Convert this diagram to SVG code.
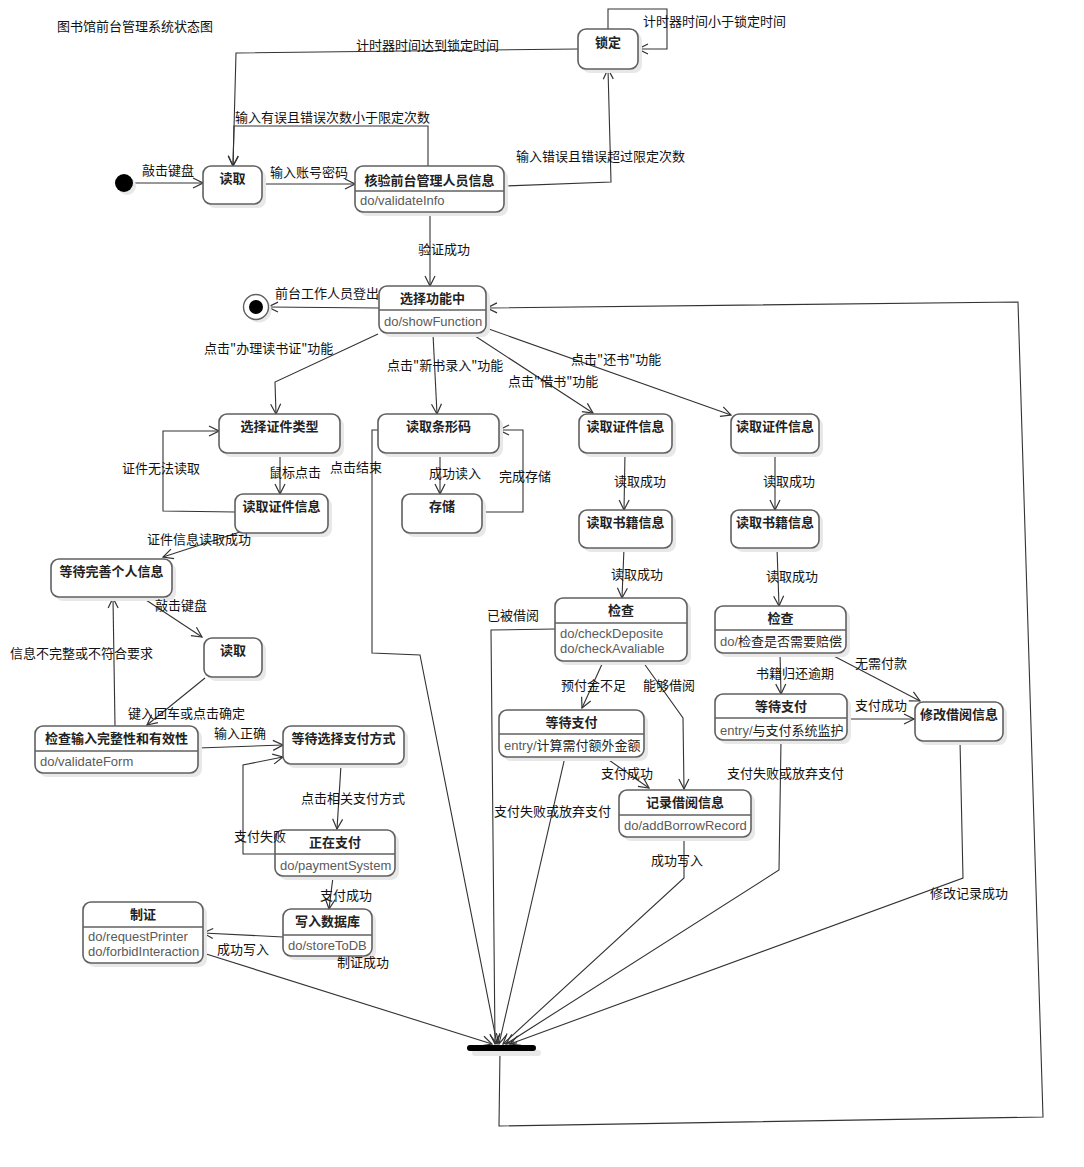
<svg xmlns="http://www.w3.org/2000/svg" width="1084" height="1167" viewBox="0 0 1084 1167">
  <style>
    .shadow { fill: #e8e8e8; }
    .box { fill: #ffffff; stroke: #606060; stroke-width: 1.6; }
    .div { stroke: #606060; stroke-width: 1.4; }
    .title { font-family: "Noto Sans CJK SC", sans-serif; font-size: 13px; font-weight: bold; fill: #222; text-anchor: middle; }
    .act { font-family: "Liberation Sans", "Noto Sans CJK SC", sans-serif; font-size: 13px; fill: #5a5a5a; }
    .actcn { font-family: "Noto Sans CJK SC", sans-serif; fill: #222; }
    .lbl { font-family: "Noto Sans CJK SC", sans-serif; font-size: 13px; fill: #111; }
    .edge { fill: none; stroke: #333; stroke-width: 1.1; marker-end: url(#arr); }
  </style>
  <defs>
    <marker id="arr" viewBox="0 0 12 12" refX="11" refY="6" markerWidth="12" markerHeight="12" markerUnits="userSpaceOnUse" orient="auto">
      <path d="M1,1 L11,6 L1,11" fill="none" stroke="#333" stroke-width="1.2"/>
    </marker>
  </defs>

  <rect width="1084" height="1167" fill="#ffffff"/>

  <text x="57" y="31" class="lbl">图书馆前台管理系统状态图</text>

  <!-- transitions -->
  <g id="connectors">
    <path class="edge" d="M133,183 L203,183"/>
    <path class="edge" d="M262,184 L355,184"/>
    <path class="edge" d="M428,166 L428,126 L234,126 L233,166"/>
    <path class="edge" d="M578,49 L236,53 L233,166"/>
    <path class="edge" d="M504,186 L611,182 L608,69"/>
    <path class="edge" d="M608,29 L608,9 L667,9 L667,49 L638,49"/>
    <path class="edge" d="M430,213 L430,286"/>
    <path class="edge" d="M379,308 L268,307"/>
    <path class="edge" d="M378,334 L275,382 L276,414"/>
    <path class="edge" d="M433,334 L437,414"/>
    <path class="edge" d="M472,334 L593,413"/>
    <path class="edge" d="M486,328 L731,415"/>
    <path class="edge" d="M280,453 L280,494"/>
    <path class="edge" d="M235,512 L163,511 L163,431 L219,431"/>
    <path class="edge" d="M240,532 L163,557"/>
    <path class="edge" d="M143,598 L202,637"/>
    <path class="edge" d="M205,678 L147,725"/>
    <path class="edge" d="M115,726 L113,598"/>
    <path class="edge" d="M198,748 L283,745"/>
    <path class="edge" d="M341,765 L337,829"/>
    <path class="edge" d="M275,854 L243,854 L243,765 L283,757"/>
    <path class="edge" d="M333,877 L329,909"/>
    <path class="edge" d="M283,937 L203,933"/>
    <path class="edge" d="M203,953 L492,1044"/>
    <path class="edge" d="M440,453 L440,494"/>
    <path class="edge" d="M482,512 L523,512 L523,430 L499,430"/>
    <path class="edge" d="M378,430 L372,430 L372,653 L420,655 L497,1044"/>
    <path class="edge" d="M625,453 L624,510"/>
    <path class="edge" d="M624,548 L622,598"/>
    <path class="edge" d="M555,629 L491,630 L495,1044"/>
    <path class="edge" d="M603,662 L582,708"/>
    <path class="edge" d="M643,662 L683,718 L684,789"/>
    <path class="edge" d="M606,758 L649,788"/>
    <path class="edge" d="M565,757 L499,1044"/>
    <path class="edge" d="M684,837 L684,878 L503,1044"/>
    <path class="edge" d="M775,453 L775,510"/>
    <path class="edge" d="M777,548 L779,606"/>
    <path class="edge" d="M780,653 L781,694"/>
    <path class="edge" d="M828,653 L920,701"/>
    <path class="edge" d="M847,719 L914,719"/>
    <path class="edge" d="M781,741 L779,870 L506,1044"/>
    <path class="edge" d="M960,741 L963,878 L510,1044"/>
    <path class="edge" d="M500,1051 L499,1126 L1043,1117 L1018,302 L487,308"/>
  </g>

  <!-- pseudo states -->
  <g id="initial">
    <circle cx="127" cy="186" r="9" class="shadow"/>
    <circle cx="124" cy="183" r="9" fill="#000"/>
  </g>
  <g id="final">
    <circle cx="259" cy="310" r="12.5" class="shadow"/>
    <circle cx="256" cy="307" r="12.5" fill="#fff" stroke="#606060" stroke-width="1.4"/>
    <circle cx="256" cy="307" r="7" fill="#000"/>
  </g>
  <g id="join">
    <rect x="472" y="1050" width="69" height="6" rx="3" class="shadow"/>
    <rect x="467" y="1045" width="69" height="6" rx="3" fill="#000"/>
  </g>

  <!-- states -->
  <g id="read-login">
    <rect x="207" y="170" width="59" height="38" rx="8" class="shadow"/>
    <rect x="203" y="166" width="59" height="38" rx="8" class="box"/>
    <text x="232.5" y="183" class="title">读取</text>
  </g>
  <g id="verify">
    <rect x="359" y="170" width="149" height="46" rx="8" class="shadow"/>
    <rect x="355" y="166" width="149" height="46" rx="8" class="box"/>
    <line x1="355" y1="191" x2="504" y2="191" class="div"/>
    <text x="429.5" y="185" class="title">核验前台管理人员信息</text>
    <text x="360" y="205" class="act">do/validateInfo</text>
  </g>
  <g id="lock">
    <rect x="582" y="33" width="60" height="40" rx="8" class="shadow"/>
    <rect x="578" y="29" width="60" height="40" rx="8" class="box"/>
    <text x="608" y="47" class="title">锁定</text>
  </g>
  <g id="select-function">
    <rect x="383" y="290" width="107" height="47" rx="8" class="shadow"/>
    <rect x="379" y="286" width="107" height="47" rx="8" class="box"/>
    <line x1="379" y1="310" x2="486" y2="310" class="div"/>
    <text x="432.5" y="303" class="title">选择功能中</text>
    <text x="384" y="326" class="act">do/showFunction</text>
  </g>
  <g id="choose-card-type">
    <rect x="223" y="418" width="121" height="39" rx="8" class="shadow"/>
    <rect x="219" y="414" width="121" height="39" rx="8" class="box"/>
    <text x="279.5" y="431" class="title">选择证件类型</text>
  </g>
  <g id="read-card-1">
    <rect x="239" y="498" width="93" height="39" rx="8" class="shadow"/>
    <rect x="235" y="494" width="93" height="39" rx="8" class="box"/>
    <text x="281.5" y="511" class="title">读取证件信息</text>
  </g>
  <g id="wait-info">
    <rect x="55" y="563" width="121" height="38" rx="8" class="shadow"/>
    <rect x="51" y="559" width="121" height="38" rx="8" class="box"/>
    <text x="111.5" y="576" class="title">等待完善个人信息</text>
  </g>
  <g id="read-input">
    <rect x="208" y="642" width="58" height="39" rx="8" class="shadow"/>
    <rect x="204" y="638" width="58" height="39" rx="8" class="box"/>
    <text x="233" y="655" class="title">读取</text>
  </g>
  <g id="check-form">
    <rect x="39" y="730" width="163" height="47" rx="8" class="shadow"/>
    <rect x="35" y="726" width="163" height="47" rx="8" class="box"/>
    <line x1="35" y1="751" x2="198" y2="751" class="div"/>
    <text x="116.5" y="743" class="title">检查输入完整性和有效性</text>
    <text x="40" y="766" class="act">do/validateForm</text>
  </g>
  <g id="wait-pay-method">
    <rect x="287" y="730" width="121" height="38" rx="8" class="shadow"/>
    <rect x="283" y="726" width="121" height="38" rx="8" class="box"/>
    <text x="343.5" y="743" class="title">等待选择支付方式</text>
  </g>
  <g id="paying">
    <rect x="279" y="834" width="120" height="46" rx="8" class="shadow"/>
    <rect x="275" y="830" width="120" height="46" rx="8" class="box"/>
    <line x1="275" y1="854" x2="395" y2="854" class="div"/>
    <text x="335" y="847" class="title">正在支付</text>
    <text x="280" y="870" class="act">do/paymentSystem</text>
  </g>
  <g id="write-db">
    <rect x="287" y="913" width="89" height="47" rx="8" class="shadow"/>
    <rect x="283" y="909" width="89" height="47" rx="8" class="box"/>
    <line x1="283" y1="935" x2="372" y2="935" class="div"/>
    <text x="327.5" y="926" class="title">写入数据库</text>
    <text x="288" y="950" class="act">do/storeToDB</text>
  </g>
  <g id="make-card">
    <rect x="87" y="906" width="120" height="61" rx="8" class="shadow"/>
    <rect x="83" y="902" width="120" height="61" rx="8" class="box"/>
    <line x1="83" y1="927" x2="203" y2="927" class="div"/>
    <text x="143" y="919" class="title">制证</text>
    <text x="88" y="941" class="act">do/requestPrinter</text>
    <text x="88" y="956" class="act">do/forbidInteraction</text>
  </g>
  <g id="read-barcode">
    <rect x="382" y="418" width="121" height="39" rx="8" class="shadow"/>
    <rect x="378" y="414" width="121" height="39" rx="8" class="box"/>
    <text x="438.5" y="431" class="title">读取条形码</text>
  </g>
  <g id="store">
    <rect x="406" y="498" width="80" height="39" rx="8" class="shadow"/>
    <rect x="402" y="494" width="80" height="39" rx="8" class="box"/>
    <text x="442" y="511" class="title">存储</text>
  </g>
  <g id="borrow-read-card">
    <rect x="583" y="418" width="93" height="39" rx="8" class="shadow"/>
    <rect x="579" y="414" width="93" height="39" rx="8" class="box"/>
    <text x="625.5" y="431" class="title">读取证件信息</text>
  </g>
  <g id="borrow-read-book">
    <rect x="583" y="514" width="93" height="38" rx="8" class="shadow"/>
    <rect x="579" y="510" width="93" height="38" rx="8" class="box"/>
    <text x="625.5" y="527" class="title">读取书籍信息</text>
  </g>
  <g id="borrow-check">
    <rect x="559" y="602" width="132" height="63" rx="8" class="shadow"/>
    <rect x="555" y="598" width="132" height="63" rx="8" class="box"/>
    <line x1="555" y1="623" x2="687" y2="623" class="div"/>
    <text x="621" y="615" class="title">检查</text>
    <text x="560" y="638" class="act">do/checkDeposite</text>
    <text x="560" y="653" class="act">do/checkAvaliable</text>
  </g>
  <g id="borrow-wait-pay">
    <rect x="503" y="714" width="145" height="47" rx="8" class="shadow"/>
    <rect x="499" y="710" width="145" height="47" rx="8" class="box"/>
    <line x1="499" y1="734" x2="644" y2="734" class="div"/>
    <text x="571.5" y="727" class="title">等待支付</text>
    <text x="504" y="750" class="act">entry/<tspan class="actcn">计算需付额外金额</tspan></text>
  </g>
  <g id="record-borrow">
    <rect x="623" y="794" width="132" height="47" rx="8" class="shadow"/>
    <rect x="619" y="790" width="132" height="47" rx="8" class="box"/>
    <line x1="619" y1="815" x2="751" y2="815" class="div"/>
    <text x="685" y="807" class="title">记录借阅信息</text>
    <text x="624" y="830" class="act">do/addBorrowRecord</text>
  </g>
  <g id="return-read-card">
    <rect x="735" y="418" width="88" height="39" rx="8" class="shadow"/>
    <rect x="731" y="414" width="88" height="39" rx="8" class="box"/>
    <text x="775" y="431" class="title">读取证件信息</text>
  </g>
  <g id="return-read-book">
    <rect x="735" y="514" width="88" height="38" rx="8" class="shadow"/>
    <rect x="731" y="510" width="88" height="38" rx="8" class="box"/>
    <text x="775" y="527" class="title">读取书籍信息</text>
  </g>
  <g id="return-check">
    <rect x="719" y="610" width="131" height="47" rx="8" class="shadow"/>
    <rect x="715" y="606" width="131" height="47" rx="8" class="box"/>
    <line x1="715" y1="630" x2="846" y2="630" class="div"/>
    <text x="780.5" y="623" class="title">检查</text>
    <text x="720" y="646" class="act">do/<tspan class="actcn">检查是否需要赔偿</tspan></text>
  </g>
  <g id="return-wait-pay">
    <rect x="719" y="698" width="132" height="46" rx="8" class="shadow"/>
    <rect x="715" y="694" width="132" height="46" rx="8" class="box"/>
    <line x1="715" y1="718" x2="847" y2="718" class="div"/>
    <text x="781" y="711" class="title">等待支付</text>
    <text x="720" y="735" class="act">entry/<tspan class="actcn">与支付系统监护</tspan></text>
  </g>
  <g id="modify-borrow">
    <rect x="919" y="706" width="88" height="39" rx="8" class="shadow"/>
    <rect x="915" y="702" width="88" height="39" rx="8" class="box"/>
    <text x="959" y="719" class="title">修改借阅信息</text>
  </g>

  <!-- transition labels, drawn above the states -->
  <g id="labels" class="lbl">
    <text x="142" y="175">敲击键盘</text>
    <text x="270" y="177">输入账号密码</text>
    <text x="235" y="122">输入有误且错误次数小于限定次数</text>
    <text x="356" y="50">计时器时间达到锁定时间</text>
    <text x="643" y="26">计时器时间小于锁定时间</text>
    <text x="516" y="161">输入错误且错误超过限定次数</text>
    <text x="418" y="254">验证成功</text>
    <text x="275" y="298">前台工作人员登出</text>
    <text x="204" y="353">点击"办理读书证"功能</text>
    <text x="387" y="370">点击"新书录入"功能</text>
    <text x="508" y="386">点击"借书"功能</text>
    <text x="571" y="364">点击"还书"功能</text>
    <text x="269" y="477">鼠标点击</text>
    <text x="330" y="472">点击结束</text>
    <text x="122" y="473">证件无法读取</text>
    <text x="147" y="544">证件信息读取成功</text>
    <text x="155" y="610">敲击键盘</text>
    <text x="10" y="658">信息不完整或不符合要求</text>
    <text x="128" y="718">键入回车或点击确定</text>
    <text x="214" y="738">输入正确</text>
    <text x="301" y="803">点击相关支付方式</text>
    <text x="234" y="841">支付失败</text>
    <text x="320" y="900">支付成功</text>
    <text x="217" y="954">成功写入</text>
    <text x="337" y="967">制证成功</text>
    <text x="429" y="478">成功读入</text>
    <text x="499" y="481">完成存储</text>
    <text x="614" y="486">读取成功</text>
    <text x="611" y="579">读取成功</text>
    <text x="487" y="620">已被借阅</text>
    <text x="561" y="690">预付金不足</text>
    <text x="643" y="690">能够借阅</text>
    <text x="601" y="778">支付成功</text>
    <text x="494" y="816">支付失败或放弃支付</text>
    <text x="651" y="865">成功写入</text>
    <text x="763" y="486">读取成功</text>
    <text x="766" y="581">读取成功</text>
    <text x="855" y="668">无需付款</text>
    <text x="756" y="678">书籍归还逾期</text>
    <text x="855" y="710">支付成功</text>
    <text x="727" y="778">支付失败或放弃支付</text>
    <text x="930" y="898">修改记录成功</text>
  </g>
</svg>
